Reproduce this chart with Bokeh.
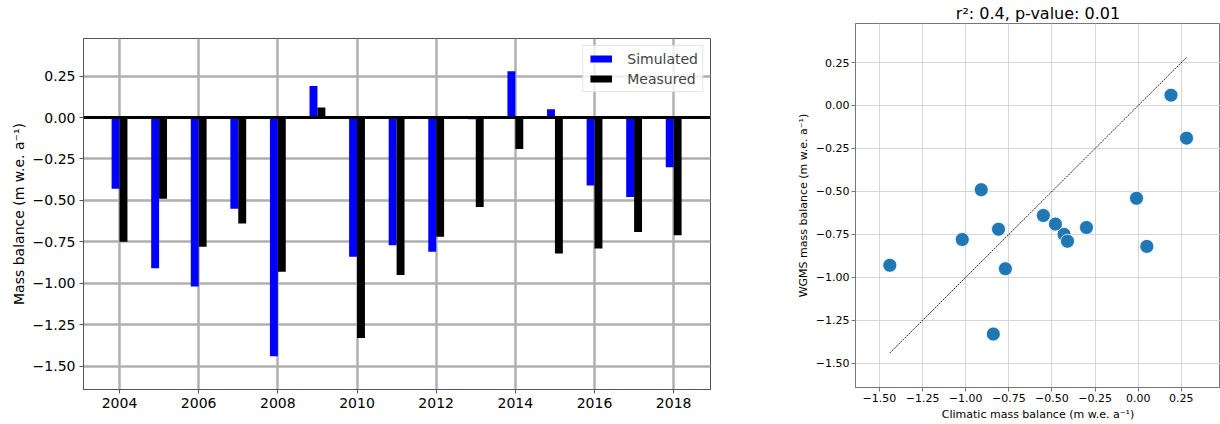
from bokeh.plotting import figure
from bokeh.layouts import row, column
from bokeh.models import ColumnDataSource, FixedTicker, Span, Range1d, Legend, LegendItem
from bokeh.embed import file_html
from bokeh.resources import INLINE

# Annual glacier-wide mass balance (m w.e. a-1)
years = [2004, 2005, 2006, 2007, 2008, 2009, 2010, 2011, 2012, 2013, 2014, 2015, 2016, 2017, 2018]
simulated = [-0.43, -0.91, -1.02, -0.55, -1.44, 0.19, -0.84, -0.77, -0.81, -0.01, 0.28, 0.05, -0.41, -0.48, -0.30]
measured = [-0.75, -0.49, -0.78, -0.64, -0.93, 0.06, -1.33, -0.95, -0.72, -0.54, -0.19, -0.82, -0.79, -0.69, -0.71]

year_ticks = [2004, 2006, 2008, 2010, 2012, 2014, 2016, 2018]
mb_ticks = [-1.50, -1.25, -1.00, -0.75, -0.50, -0.25, 0.00, 0.25]
scatter_x_ticks = [-1.50, -1.25, -1.00, -0.75, -0.50, -0.25, 0.00, 0.25]

title_text = "r\u00b2: 0.4, p-value: 0.01"
unit = "(m w.e. a\u207b\u00b9)"

FONT = "DejaVu Sans"
BAR_W = 0.2
Y_LO, Y_HI = -1.641, 0.477


def minus_labels(vals):
    return {float(v): f"{v:.2f}".replace("-", "\u2212") for v in vals}


# ---- left panel: bar chart by year ----
src = ColumnDataSource(dict(
    x_sim=[y - BAR_W / 2 for y in years],
    x_meas=[y + BAR_W / 2 for y in years],
    sim=simulated,
    meas=measured,
))

p1 = figure(width=780, height=424, output_backend="svg", toolbar_location=None,
            x_range=Range1d(2003.09, 2018.93), y_range=Range1d(Y_LO, Y_HI),
            min_border_left=83, min_border_right=70, min_border_top=38, min_border_bottom=35)
r_sim = p1.vbar(x="x_sim", top="sim", bottom=0, width=BAR_W, source=src,
                fill_color="#0000ff", line_color=None)
r_meas = p1.vbar(x="x_meas", top="meas", bottom=0, width=BAR_W, source=src,
                 fill_color="#000000", line_color=None)
p1.add_layout(Span(location=0, dimension="width", line_color="black", line_width=3))

p1.xaxis.ticker = FixedTicker(ticks=year_ticks)
p1.yaxis.ticker = FixedTicker(ticks=mb_ticks)
p1.yaxis.major_label_overrides = minus_labels(mb_ticks)
p1.yaxis.axis_label = "Mass balance " + unit
p1.xgrid.ticker = FixedTicker(ticks=year_ticks)
p1.ygrid.ticker = FixedTicker(ticks=mb_ticks)
for g in (p1.xgrid, p1.ygrid):
    g.grid_line_color = "#b0b0b0"
    g.grid_line_width = 2.5
for ax in (p1.xaxis, p1.yaxis):
    ax.major_label_text_font = FONT
    ax.major_label_text_font_size = "14px"
    ax.major_label_text_color = "black"
    ax.axis_label_text_font = FONT
    ax.axis_label_text_font_size = "14px"
    ax.axis_label_text_font_style = "normal"
    ax.axis_label_text_color = "black"
    ax.axis_label_standoff = 3
    ax.axis_line_color = "#555555"
    ax.major_tick_line_color = "#555555"
    ax.major_tick_out = 4
    ax.major_tick_in = 0
    ax.minor_tick_line_color = None
    ax.major_label_standoff = 4
p1.outline_line_color = "#555555"
p1.outline_line_alpha = 1

legend = Legend(items=[LegendItem(label="Simulated", renderers=[r_sim]),
                       LegendItem(label="Measured", renderers=[r_meas])],
                location="top_right")
legend.label_text_font = FONT
legend.label_text_font_size = "14px"
legend.glyph_width = 27
legend.glyph_height = 9
legend.label_height = 17
legend.spacing = 3
legend.padding = 4
legend.margin = 7
legend.label_standoff = 13
legend.border_line_color = "#cccccc"
legend.background_fill_alpha = 0.8
p1.add_layout(legend)

# ---- right panel: simulated vs measured ----
p2 = figure(width=440, height=424, output_backend="svg", toolbar_location=None,
            x_range=Range1d(-1.639, 0.477), y_range=Range1d(Y_LO, Y_HI),
            min_border_left=75, min_border_right=0, min_border_top=23, min_border_bottom=37)
p2.title.text = title_text
p2.title.align = "center"
p2.title.text_font = FONT
p2.title.text_font_size = "16px"
p2.title.text_font_style = "normal"
p2.title.text_color = "black"
p2.title.standoff = 2

lo, hi = min(simulated), max(simulated)
p2.line([lo, hi], [lo, hi], line_color="#222222", line_width=1, line_dash="2 1")
p2.scatter(simulated, measured, size=14, fill_color="#1f77b4", line_color="white", line_width=0.8)

p2.xaxis.ticker = FixedTicker(ticks=scatter_x_ticks)
p2.yaxis.ticker = FixedTicker(ticks=mb_ticks)
p2.xaxis.major_label_overrides = minus_labels(scatter_x_ticks)
p2.yaxis.major_label_overrides = minus_labels(mb_ticks)
p2.xaxis.axis_label = "Climatic mass balance " + unit
p2.yaxis.axis_label = "WGMS mass balance " + unit
p2.xgrid.ticker = FixedTicker(ticks=scatter_x_ticks)
p2.ygrid.ticker = FixedTicker(ticks=mb_ticks)
for g in (p2.xgrid, p2.ygrid):
    g.grid_line_color = "#d6d6d6"
    g.grid_line_width = 1
for ax in (p2.xaxis, p2.yaxis):
    ax.major_label_text_font = FONT
    ax.major_label_text_font_size = "11px"
    ax.major_label_text_color = "black"
    ax.axis_label_text_font = FONT
    ax.axis_label_text_font_size = "11px"
    ax.axis_label_text_font_style = "normal"
    ax.axis_label_text_color = "black"
    ax.axis_label_standoff = 3
    ax.axis_line_color = "#777777"
    ax.major_tick_line_color = "#777777"
    ax.major_tick_out = 4
    ax.major_tick_in = 0
    ax.minor_tick_line_color = None
    ax.major_label_standoff = 2
p2.outline_line_color = "#777777"
p2.outline_line_alpha = 1

# each panel sits in its own column so the two plot frames are laid out independently
layout = row(column(p1), column(p2))
open("out.html", "w").write(file_html(layout, INLINE))
